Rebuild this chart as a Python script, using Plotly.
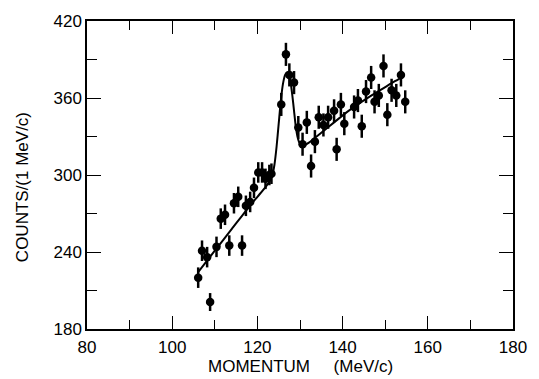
import plotly.graph_objects as go

# Data points (momentum MeV/c, counts per 1 MeV/c)
momentum = [106.1, 107.0, 108.2, 108.9, 110.4, 111.4, 112.4, 113.4, 114.5, 115.5,
            116.4, 117.3, 118.3, 119.2, 120.2, 121.1, 121.9, 122.8, 123.3,
            125.6, 126.7, 127.5, 128.6, 129.6, 130.6, 131.6, 132.6, 133.5, 134.4,
            135.5, 136.6, 138.0, 138.6, 139.6, 140.4, 142.7, 143.6, 144.5, 145.5,
            146.7, 147.5, 148.5, 149.6, 150.5, 151.5, 152.6, 153.7, 154.7]
counts = [220, 241, 236, 201, 244, 266, 269, 245, 278, 283,
          245, 276, 279, 290, 302, 302, 297, 300, 301,
          355, 394, 378, 372, 337, 324, 341, 307, 326, 345,
          339, 345, 350, 320, 355, 340, 353, 358, 338, 365,
          376, 357, 362, 385, 347, 366, 362, 378, 357]
errors = [8, 8, 8, 7, 8, 8, 8, 8, 8, 8,
          8, 8, 8, 8, 8, 8, 8, 8, 8,
          9, 9, 9, 9, 9, 9, 9, 9, 9, 9,
          9, 9, 9, 9, 9, 9, 9, 9, 9, 9,
          9, 9, 9, 9, 9, 9, 9, 9, 9]

# Fit curve
fit_x = [106, 110, 114, 118, 120, 122, 123, 123.5, 124, 124.5, 125, 125.5, 126, 126.5, 127.0,
         127.4, 127.8, 128.2, 128.6, 129.0, 129.4, 129.8, 130.2, 130.7, 131.2, 132, 133, 135,
         138, 141, 144, 147, 150, 152, 154]
fit_y = [224, 241, 258, 275, 283, 291, 296, 300, 308, 322, 340, 358, 371, 378, 380,
         378, 372, 362, 350, 338, 330, 325.5, 323.5, 323, 323.5, 325, 327.5, 333,
         341, 349, 356, 362.5, 368.5, 372.5, 376]

fig = go.Figure()
fig.add_trace(go.Scatter(x=fit_x, y=fit_y, mode="lines",
                         line=dict(color="black", width=2, shape="spline", smoothing=0.6),
                         hoverinfo="skip", showlegend=False))
fig.add_trace(go.Scatter(x=momentum, y=counts, mode="markers",
                         marker=dict(color="black", size=8.5),
                         error_y=dict(type="data", array=errors, color="black",
                                      thickness=2.5, width=0),
                         showlegend=False))

axis_common = dict(showgrid=False, zeroline=False, showline=True, linecolor="black",
                   linewidth=1.5, mirror="allticks", ticks="inside", tickcolor="black",
                   tickwidth=1, tickfont=dict(family="Liberation Sans, Arial", size=17, color="black"))

fig.update_xaxes(range=[80, 180], tick0=80, dtick=20, ticklen=13, ticklabelstandoff=2,
                 minor=dict(dtick=10, ticks="inside", ticklen=9, tickcolor="black", tickwidth=1),
                 **axis_common)
fig.update_yaxes(range=[180, 420], tick0=180, dtick=60, ticklen=14,
                 minor=dict(dtick=30, ticks="inside", ticklen=10, tickcolor="black", tickwidth=1),
                 **axis_common)

fig.update_layout(
    width=539, height=379,
    margin=dict(l=87, r=17, t=15, b=50),
    paper_bgcolor="white", plot_bgcolor="white",
    font=dict(family="Liberation Sans, Arial", size=17, color="black"),
    annotations=[
        dict(text="MOMENTUM\u00a0\u00a0\u00a0\u00a0\u00a0(MeV/c)", xref="paper", yref="paper",
             x=0.5, y=-0.158, yanchor="bottom", xanchor="center", showarrow=False,
             font=dict(size=17)),
        dict(text="COUNTS/(1 MeV/c)", xref="paper", yref="paper", textangle=-90,
             x=-0.153, y=0.46, xanchor="center", yanchor="middle", showarrow=False,
             font=dict(size=17)),
    ],
)

fig.write_html("out.html")
